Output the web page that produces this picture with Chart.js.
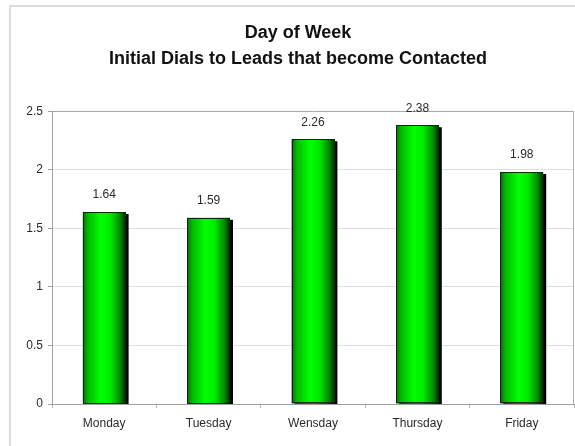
<!DOCTYPE html>
<html>
<head>
<meta charset="utf-8">
<script src="https://cdn.jsdelivr.net/npm/chart.js@4/dist/chart.umd.min.js"></script>
<style>
  html, body { margin: 0; padding: 0; background: #ffffff; }
  #wrap { width: 575px; height: 446px; }
</style>
</head>
<body>
<div id="wrap"><canvas id="c" width="575" height="446"></canvas></div>
<script>
const titleLines = ['Day of Week', 'Initial Dials to Leads that become Contacted'];
const categories = ['Monday', 'Tuesday', 'Wensday', 'Thursday', 'Friday'];
const values = [1.64, 1.59, 2.26, 2.38, 1.98];
const yTicks = [0, 0.5, 1, 1.5, 2, 2.5];

const BAR_FRACTION = 0.41;
const FONT = '"Liberation Sans", Arial, sans-serif';

function barGradient(c) {
  const chart = c.chart;
  const xs = chart.scales && chart.scales.x;
  if (!xs || c.type !== 'data' || !isFinite(xs.width)) return '#00ee00';
  const cx = xs.getPixelForValue(c.dataIndex);
  const w = (xs.width / categories.length) * BAR_FRACTION;
  const g = chart.ctx.createLinearGradient(cx - w / 2, 0, cx + w / 2, 0);
  g.addColorStop(0.0, '#007000');
  g.addColorStop(0.12, '#00bc00');
  g.addColorStop(0.42, '#00ff00');
  g.addColorStop(0.64, '#00ea00');
  g.addColorStop(0.86, '#008c00');
  g.addColorStop(1.0, '#002800');
  return g;
}

const framePlugin = {
  id: 'frame',
  beforeDraw(chart) {
    const ctx = chart.ctx;
    ctx.save();
    ctx.fillStyle = '#ffffff';
    ctx.fillRect(0, 0, chart.width, chart.height);
    ctx.strokeStyle = '#dcdcdc';
    ctx.lineWidth = 2;
    ctx.strokeRect(10, 6, chart.width + 20, chart.height + 20);
    ctx.restore();
  },
  afterDraw(chart) {
    const a = chart.chartArea;
    const ctx = chart.ctx;
    ctx.save();
    ctx.strokeStyle = '#b0b0b0';
    ctx.lineWidth = 1;
    ctx.beginPath();
    ctx.moveTo(a.right - 0.5, a.top);
    ctx.lineTo(a.right - 0.5, a.bottom);
    ctx.stroke();
    ctx.restore();
  }
};

const shadowPlugin = {
  id: 'barShadow',
  beforeDatasetDraw(chart) {
    const ctx = chart.ctx;
    ctx.save();
    ctx.shadowColor = '#000000';
    ctx.shadowBlur = 0;
    ctx.shadowOffsetX = 3;
    ctx.shadowOffsetY = 2;
  },
  afterDatasetDraw(chart, args) {
    const ctx = chart.ctx;
    ctx.restore();
    const meta = chart.getDatasetMeta(args.index);
    ctx.save();
    ctx.strokeStyle = '#003000';
    ctx.lineWidth = 1;
    meta.data.forEach(el => {
      const p = el.getProps(['x', 'y', 'base', 'width'], true);
      ctx.strokeRect(Math.round(p.x - p.width / 2) + 0.5, Math.round(p.y) + 0.5,
                     Math.round(p.width) - 1, Math.round(p.base - p.y) - 1);
    });
    ctx.restore();
  }
};

const labelPlugin = {
  id: 'valueLabels',
  afterDatasetsDraw(chart) {
    const ctx = chart.ctx;
    ctx.save();
    ctx.font = '12px ' + FONT;
    ctx.fillStyle = '#2a2a2a';
    ctx.textAlign = 'center';
    ctx.textBaseline = 'middle';
    chart.data.datasets.forEach((ds, di) => {
      const meta = chart.getDatasetMeta(di);
      meta.data.forEach((el, i) => {
        const p = el.getProps(['x', 'y'], true);
        ctx.fillText(String(ds.data[i]), p.x, p.y - 17);
      });
    });
    ctx.restore();
  }
};

new Chart(document.getElementById('c'), {
  type: 'bar',
  data: {
    labels: categories,
    datasets: [{
      data: values,
      backgroundColor: barGradient,
      borderWidth: 0,
      categoryPercentage: 1,
      barPercentage: BAR_FRACTION
    }]
  },
  options: {
    responsive: false,
    animation: false,
    events: [],
    layout: { padding: { top: 6, left: 22, right: 1, bottom: 0 } },
    plugins: {
      legend: { display: false },
      tooltip: { enabled: false },
      title: {
        display: true,
        text: titleLines,
        color: '#111111',
        font: { family: FONT, size: 18, weight: 'bold', lineHeight: 1.45 },
        padding: { top: 14, bottom: 39 }
      }
    },
    scales: {
      x: {
        grid: {
          display: true,
          offset: true,
          drawOnChartArea: false,
          drawTicks: true,
          tickLength: 4,
          color: '#b8b8b8',
          tickColor: '#b8b8b8'
        },
        border: { display: true, color: '#a0a0a0', width: 1 },
        ticks: {
          color: '#2a2a2a',
          font: { family: FONT, size: 12 },
          padding: 8,
          maxRotation: 0
        },
        afterFit(s) { s.height = 42; }
      },
      y: {
        min: 0,
        max: 2.5,
        afterBuildTicks(s) { s.ticks = yTicks.map(v => ({ value: v })); },
        grid: {
          color: (c) => (c.tick && c.tick.value === 2.5) ? '#a8a8a8' : '#e0e0e0',
          tickColor: '#a0a0a0',
          tickLength: 4,
          drawTicks: true
        },
        border: { display: true, color: '#a0a0a0', width: 1 },
        ticks: {
          color: '#2a2a2a',
          font: { family: FONT, size: 12 },
          padding: 5,
          callback: (v) => String(v)
        },
        afterFit(s) { s.width = 30; }
      }
    }
  },
  plugins: [framePlugin, shadowPlugin, labelPlugin]
});
</script>
</body>
</html>
